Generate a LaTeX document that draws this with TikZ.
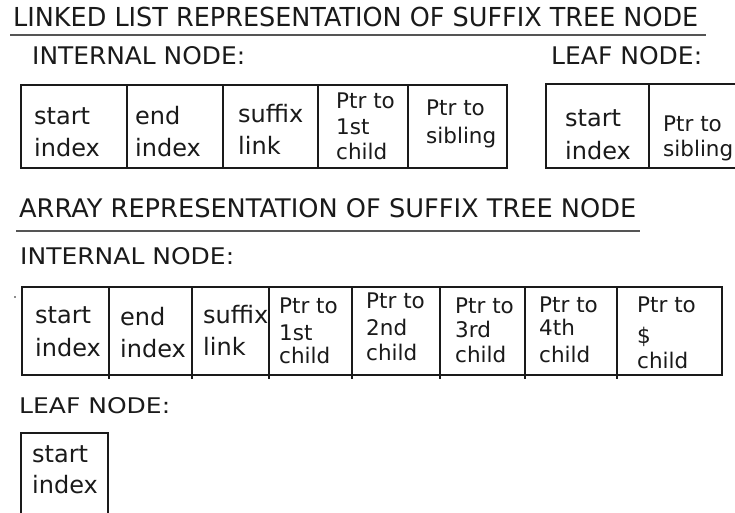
\documentclass[tikz,border=0pt]{standalone}
\usepackage{fontspec}
\setmainfont{DejaVu Sans}
\usepackage{graphicx}
\definecolor{ink}{HTML}{1A1A1A}
\definecolor{rule}{HTML}{555555}
\tikzset{
  lbl/.style={anchor=base west, inner sep=0pt, text=ink, font=\fontsize{24}{28}\selectfont},
  ptr/.style={anchor=base west, inner sep=0pt, text=ink, font=\fontsize{21.5}{25}\selectfont},
  head/.style={anchor=base west, inner sep=0pt, text=ink},
  cellbox/.style={draw=ink, line width=1.3pt},
  hrule/.style={draw=rule, line width=2pt}
}
\begin{document}
\begin{tikzpicture}[x=1pt,y=-1pt]
\clip (0,0) rectangle (735,513);
\useasboundingbox (0,0) rectangle (735,513);
\fill[white] (0,0) rectangle (735,513);

% ---- Linked list representation ----
\node[head] (t1) at (13,27) {\resizebox{685pt}{19.4pt}{LINKED LIST REPRESENTATION OF SUFFIX TREE NODE}};
\coordinate (u1a) at (10,35.5);
\coordinate (u1b) at (706,35.5);
\draw[hrule] (u1a) -- (u1b);
\node[head] (h1) at (32,65) {\resizebox{213pt}{18pt}{INTERNAL NODE:}};
\node[head] (h2) at (551,65) {\resizebox{151pt}{18pt}{LEAF NODE:}};

% internal node box
\draw[cellbox] (21,85) rectangle (507,168);
\foreach \x in {127,223,318,408} \draw[cellbox] (\x,85) -- (\x,168);
\node[lbl] (la1) at (34,125) {start};
\node[lbl] (la2) at (34,157) {index};
\node[lbl] (lb1) at (135,125) {end};
\node[lbl] (lb2) at (135,157) {index};
\node[lbl] (lc1) at (238,123) {suffix};
\node[lbl] (lc2) at (238,154) {link};
\node[ptr] (ld1) at (336,109) {Ptr to};
\node[ptr] (ld2) at (336,135) {1st};
\node[ptr] (ld3) at (336,160) {child};
\node[ptr] (le1) at (426,116) {Ptr to};
\node[ptr] (le2) at (426,143) {sibling};

% leaf node box
\draw[cellbox] (546,84) rectangle (760,168);
\draw[cellbox] (649,84) -- (649,168);
\node[lbl] (lf1) at (565,127) {start};
\node[lbl] (lf2) at (565,160) {index};
\node[ptr] (lg1) at (663,132) {Ptr to};
\node[ptr] (lg2) at (663,157) {sibling};

% ---- Array representation ----
\node[head] (t2) at (19,217) {\resizebox{617pt}{19pt}{ARRAY REPRESENTATION OF SUFFIX TREE NODE}};
\coordinate (u2a) at (16,231);
\coordinate (u2b) at (640,231);
\draw[hrule] (u2a) -- (u2b);
\node[head] (h3) at (20,264) {\resizebox{214pt}{17pt}{INTERNAL NODE:}};

\fill[ink] (15,297) circle (0.8pt);
\draw[cellbox] (22,287) rectangle (722,375);
\foreach \x in {109,192,269,352,440,525,617} \draw[cellbox] (\x,287) -- (\x,379);
\node[lbl] (aa1) at (35,323) {start};
\node[lbl] (aa2) at (35,356) {index};
\node[lbl] (ab1) at (120,325) {end};
\node[lbl] (ab2) at (120,357) {index};
\node[lbl] (ac1) at (203,323) {suffix};
\node[lbl] (ac2) at (203,355) {link};
\node[ptr] (ad1) at (279,313) {Ptr to};
\node[ptr] (ad2) at (279,340) {1st};
\node[ptr] (ad3) at (279,363) {child};
\node[ptr] (ae1) at (366,308) {Ptr to};
\node[ptr] (ae2) at (366,335) {2nd};
\node[ptr] (ae3) at (366,360) {child};
\node[ptr] (af1) at (455,313) {Ptr to};
\node[ptr] (af2) at (455,337) {3rd};
\node[ptr] (af3) at (455,362) {child};
\node[ptr] (ag1) at (539,312) {Ptr to};
\node[ptr] (ag2) at (539,335) {4th};
\node[ptr] (ag3) at (539,362) {child};
\node[ptr] (ah1) at (637,312) {Ptr to};
\node[ptr] (ah2) at (637,343) {\$};
\node[ptr] (ah3) at (637,368) {child};

\node[head] (h4) at (19,413) {\resizebox{151pt}{16pt}{LEAF NODE:}};
\draw[cellbox] (21,433) rectangle (108,530);
\node[lbl] (al1) at (32,462) {start};
\node[lbl] (al2) at (32,493) {index};
\end{tikzpicture}
\end{document}
